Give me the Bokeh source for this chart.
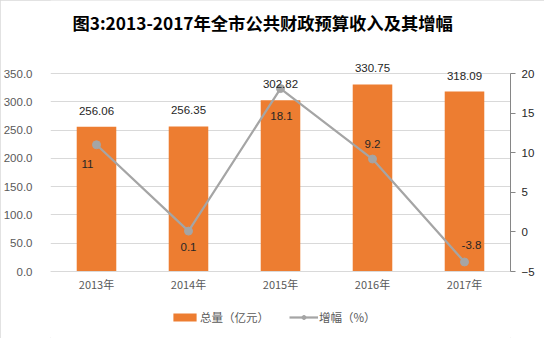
from bokeh.plotting import figure
from bokeh.models import (Range1d, LinearAxis, FixedTicker, NumeralTickFormatter,
                          Legend, LegendItem, ColumnDataSource, Label)
from bokeh.core.properties import value
from bokeh.embed import file_html
from bokeh.resources import INLINE

# ---- data ----
title_text = "图3:2013-2017年全市公共财政预算收入及其增幅"
years = ["2013年", "2014年", "2015年", "2016年", "2017年"]
total = [256.06, 256.35, 302.82, 330.75, 318.09]          # 亿元
growth = [11, 0.1, 18.1, 9.2, -3.8]                       # %
total_labels = ["256.06", "256.35", "302.82", "330.75", "318.09"]
growth_labels = ["11", "0.1", "18.1", "9.2", "-3.8"]
left_ticks = [0, 50, 100, 150, 200, 250, 300, 350]
right_ticks = [-5, 0, 5, 10, 15, 20]

# ---- style / layout ----
ORANGE = "#ED7D31"
GREY = "#A5A5A5"
AXIS_TXT = "#595959"
NUM_FONT = "Liberation Sans, Noto Sans CJK SC"
CJK_FONT = "Noto Sans CJK SC"
g_dx = [-9, 0, 1, 0, 7]
g_dy = [19, 16, 27, -15, -17]

W, H = 544, 338
LEFT, RIGHT = 50, 34
GRID_TOP, GRID_BOT = 73, 271   # canvas px of the gridded area
L0, L1 = left_ticks[0], left_ticks[-1]
R0, R1 = right_ticks[0], right_ticks[-1]
lppx = (L1 - L0) / (GRID_BOT - GRID_TOP)
rppx = (R1 - R0) / (GRID_BOT - GRID_TOP)
# frame covers the full canvas height; gridded area sits inside it
left_range = (L0 - (H - GRID_BOT) * lppx, L1 + GRID_TOP * lppx)
right_range = (R0 - (H - GRID_BOT) * rppx, R1 + GRID_TOP * rppx)

xs = [i + 0.5 for i in range(len(years))]

p = figure(width=W, height=H, output_backend="svg", toolbar_location=None,
           x_range=Range1d(0, len(years)), y_range=Range1d(*left_range),
           min_border_left=LEFT, min_border_right=RIGHT, min_border_top=0,
           min_border_bottom=0, outline_line_color=None,
           border_fill_color="white", background_fill_color="white")
p.title.visible = False
p.extra_y_ranges = {"pct": Range1d(*right_range)}
p.styles = {"outline": "1px solid #D9D9D9", "outline-offset": "-1px"}

src = ColumnDataSource(dict(x=xs, total=total, growth=growth,
                            tl=total_labels, gl=growth_labels,
                            gdx=g_dx, gdy=g_dy))

bars = p.vbar(x="x", top="total", width=0.43, source=src, fill_color=ORANGE,
              line_color=None)
line = p.line(x="x", y="growth", source=src, y_range_name="pct",
              line_color=GREY, line_width=2.25)
dots = p.scatter(x="x", y="growth", source=src, y_range_name="pct", size=8,
                 fill_color=GREY, line_color=GREY)

p.text(x="x", y="total", text="tl", source=src, text_align="center",
       text_baseline="middle", y_offset=-16, text_font=value(NUM_FONT),
       text_font_size="11.5px", text_color="#262626")
p.text(x="x", y="growth", text="gl", source=src, y_range_name="pct",
       text_align="center", text_baseline="middle", x_offset="gdx",
       y_offset="gdy", text_font=value(NUM_FONT), text_font_size="11.5px",
       text_color="#262626")

# x axis pinned at value 0
p.xaxis.fixed_location = 0
p.xaxis.ticker = FixedTicker(ticks=xs)
p.xaxis.major_label_overrides = {x: y for x, y in zip(xs, years)}
p.xaxis.major_tick_line_color = None
p.xaxis.minor_tick_line_color = None
p.xaxis.axis_line_color = "#D9D9D9"
p.xaxis.major_label_text_font = CJK_FONT
p.xaxis.major_label_text_font_size = "11px"
p.xaxis.major_label_text_color = AXIS_TXT
p.xaxis.major_label_standoff = -2

p.yaxis.ticker = FixedTicker(ticks=left_ticks)
p.yaxis.formatter = NumeralTickFormatter(format="0.0")
p.yaxis.axis_line_color = None
p.yaxis.major_tick_line_color = None
p.yaxis.minor_tick_line_color = None
p.yaxis.major_label_text_font = NUM_FONT
p.yaxis.major_label_text_font_size = "11.5px"
p.yaxis.major_label_text_color = AXIS_TXT
p.yaxis.major_label_standoff = 12

ra = LinearAxis(y_range_name="pct", ticker=FixedTicker(ticks=right_ticks),
                bounds=(R0, R1))
ra.axis_line_color = "#868686"
ra.major_tick_line_color = "#868686"
ra.major_tick_out = 5
ra.major_tick_in = 0
ra.minor_tick_line_color = None
ra.major_label_text_font = NUM_FONT
ra.major_label_text_font_size = "11.5px"
ra.major_label_text_color = "#262626"
ra.major_label_standoff = 6
p.add_layout(ra, "right")

p.xgrid.grid_line_color = None
p.ygrid.ticker = FixedTicker(ticks=left_ticks)
p.ygrid.grid_line_color = "#D9D9D9"
p.ygrid.grid_line_width = 1

# legend inside the (tall) frame, below the axis labels
legend = Legend(items=[LegendItem(label="总量（亿元）", renderers=[bars]),
                       LegendItem(label="增幅（%）", renderers=[line, dots])],
                orientation="horizontal", location=(120, 13),
                label_text_font=CJK_FONT, label_text_font_size="11.5px",
                label_text_color=AXIS_TXT, glyph_width=29, glyph_height=10,
                label_standoff=1, spacing=20, border_line_color=None,
                background_fill_alpha=0, padding=2, margin=0)
p.add_layout(legend)

# title (screen px from the frame's bottom-left)
p.add_layout(Label(x=22, y=H - 22, x_units="screen", y_units="screen",
                   text=title_text, text_align="left", text_baseline="middle",
                   text_font=CJK_FONT, text_font_size="17.3px",
                   text_font_style="bold", text_color="#000000"))

open("out.html", "w").write(file_html(p, INLINE))
